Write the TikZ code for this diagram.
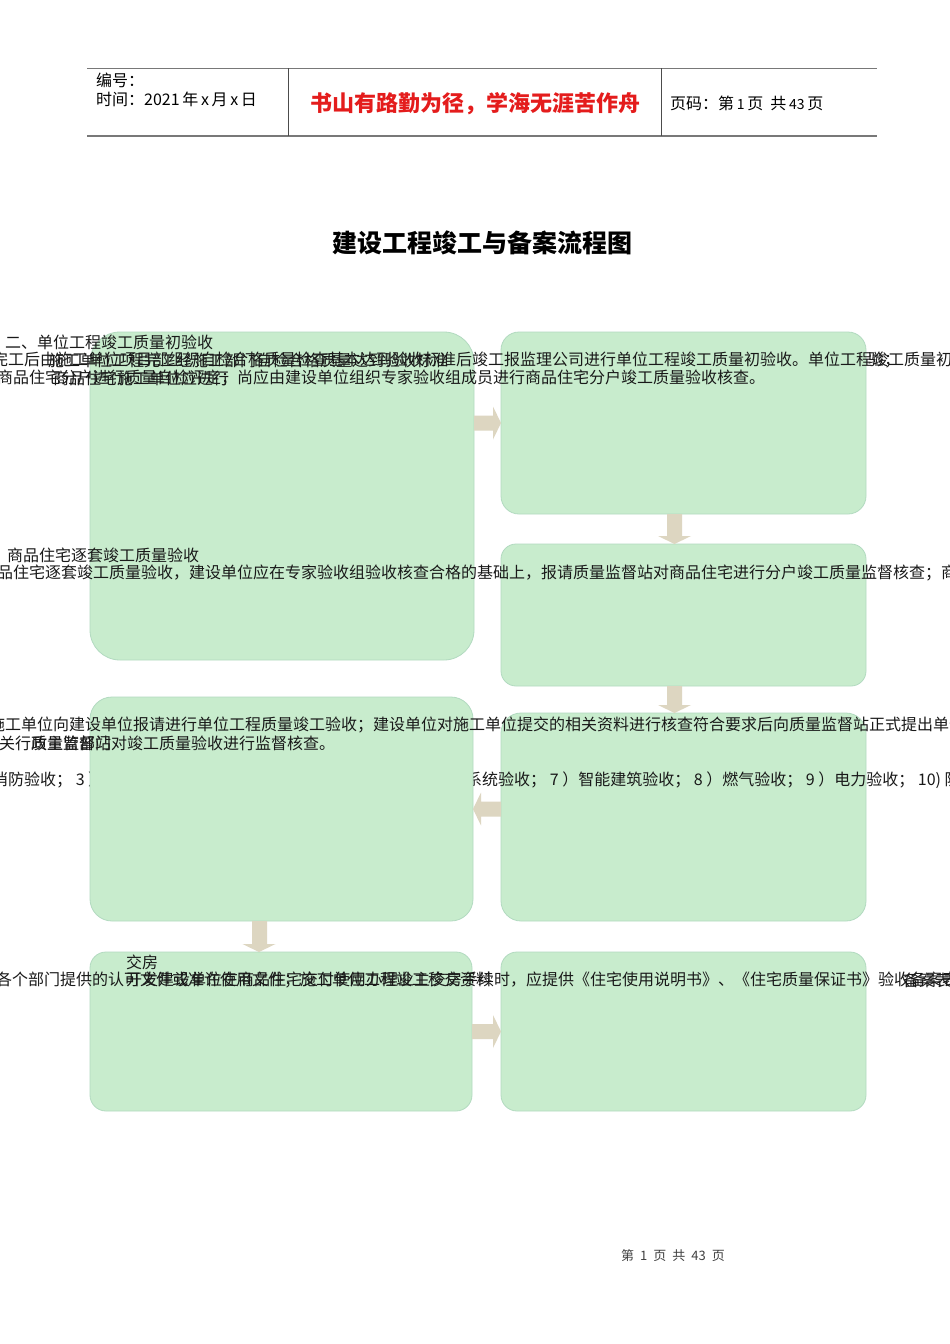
\documentclass[tikz,border=0pt]{standalone}
\usepackage{fontspec}
\newfontfamily\cjk{Noto Sans CJK SC}
\usetikzlibrary{calc}
\definecolor{boxg}{RGB}{200,236,205}
\definecolor{boxl}{RGB}{178,218,192}
\definecolor{arrc}{RGB}{221,214,193}
\definecolor{hred}{RGB}{228,28,28}
\definecolor{txt}{RGB}{25,25,25}
\definecolor{rulec}{RGB}{120,120,120}
\tikzset{
  fbox/.style={draw=boxl, fill=boxg, line width=0.8pt, rectangle, inner sep=0pt, outer sep=0pt, anchor=north west},
  ln/.style={font=\cjk\fontsize{16}{18}\selectfont, text=txt, inner sep=0pt, anchor=west},
  hdr/.style={font=\cjk\fontsize{16}{18}\selectfont, text=black, inner sep=0pt, anchor=west},
  blk/.style={fill=arrc, draw=none},
}
\begin{document}
\begin{tikzpicture}[x=1pt,y=-1pt]
\fill[white] (0,0) rectangle (950,1344);
\useasboundingbox (0,0) rectangle (950,1344);

% header table
\draw[rulec, line width=1pt] (87,68) -- (877,68);
\draw[rulec, line width=2pt] (87,136) -- (877,136);
\draw[black!70, line width=0.8pt] (288,68) -- (288,136);
\draw[black!70, line width=0.8pt] (661,68) -- (661,136);
\node[hdr] (h1) at (96,80) {编号：};
\node[hdr] (h2) at (96,99) {时间：2021\,年\,x\,月\,x\,日};
\node[font=\cjk\fontsize{22}{24}\selectfont\bfseries, text=hred, inner sep=0pt] (h3) at (475,104) {书山有路勤为径，学海无涯苦作舟};
\node[hdr] (h4) at (670,103) {页码：第\,{\fontsize{14}{16}\selectfont 1}\,页\ \ 共\,{\fontsize{14}{16}\selectfont 43}\,页};

% title
\node[font=\cjk\fontsize{25}{28}\selectfont\bfseries, text=black, inner sep=0pt] (title) at (482,243) {建设工程竣工与备案流程图};

% boxes (first group)
\node[fbox, rounded corners=30pt, minimum width=384pt, minimum height=328pt] (b1) at (90,332) {};
\node[fbox, rounded corners=18pt, minimum width=365pt, minimum height=182pt] (b2) at (501,332) {};
\node[fbox, rounded corners=15pt, minimum width=365pt, minimum height=142pt] (b3) at (501,544) {};
\node[fbox, rounded corners=20pt, minimum width=365pt, minimum height=208pt] (b5) at (501,713) {};

% arrows b1->b2, b2->b3, b3->b5
\coordinate (s1) at (b1.east |- b2.west);
\coordinate (t1) at (b2.west);
\fill[blk] ($(s1)+(0,7.5)$) -| ($(t1)+(-8,16.5)$) -- (t1) -- ($(t1)+(-8,-16.5)$) |- ($(s1)+(0,-7.5)$) -- cycle;
\coordinate (s2) at ($(b2.south)+(-9,0)$);
\coordinate (t2) at ($(b3.north)+(-9,0)$);
\fill[blk] ($(s2)+(-7.5,0)$) |- ($(t2)+(-16.5,-8)$) -- (t2) -- ($(t2)+(16.5,-8)$) -| ($(s2)+(7.5,0)$) -- cycle;
\coordinate (s3) at ($(b3.south)+(-9,0)$);
\coordinate (t3) at ($(b5.north)+(-9,0)$);
\fill[blk] ($(s3)+(-7.5,0)$) |- ($(t3)+(-16.5,-8)$) -- (t3) -- ($(t3)+(16.5,-8)$) -| ($(s3)+(7.5,0)$) -- cycle;

% texts over first group
\node[ln] (r1) at (5,342) {二、单位工程竣工质量初验收};
\node[ln] (r2a) at (-8,360) {完工后由施工单位项目部组织自检合格质量检查基本达到验收标准后竣工报监理公司进行单位工程竣工质量初验收。单位工程竣工质量初验收；};
\node[ln] (r2b) at (48,360) {施工单位工程完工经施工部门自检合格质量达到验收标准};
\node[ln] (r2c) at (868,360) {验；};
\node[ln] (r3a) at (-19,378) {对商品住宅分户进行质量自检评定；尚应由建设单位组织专家验收组成员进行商品住宅分户竣工质量验收核查。};
\node[ln] (r3b) at (53,378) {商品住宅施工单位应进行};
\node[ln] (r4) at (7,555) {商品住宅逐套竣工质量验收};
\node[ln] (r5) at (-19,573) {商品住宅逐套竣工质量验收，建设单位应在专家验收组验收核查合格的基础上，报请质量监督站对商品住宅进行分户竣工质量监督核查；商品住宅};
\node[ln] (r8a) at (-8,780) {消防验收；\ 3\ ）环保验收；\ 4\ ）人防验收；\ 5\ ）节能验收；};
\node[ln] (r8b) at (466,780) {系统验收；\ 7\ ）智能建筑验收；\ 8\ ）燃气验收；\ 9\ ）电力验收；\ 10)\ 防雷验收};

% box 4 covers part of the row above
\node[fbox, rounded corners=22pt, minimum width=383pt, minimum height=224pt] (b4) at (90,697) {};
\coordinate (s4) at (b5.west |- b4.east);
\coordinate (t4) at (b4.east);
\fill[blk] ($(s4)+(0,7.5)$) -| ($(t4)+(8,16.5)$) -- (t4) -- ($(t4)+(8,-16.5)$) |- ($(s4)+(0,-7.5)$) -- cycle;

\node[ln] (r6) at (-11,725) {施工单位向建设单位报请进行单位工程质量竣工验收；建设单位对施工单位提交的相关资料进行核查符合要求后向质量监督站正式提出单位工程竣工};
\node[ln] (r7a) at (-1,743) {关行政主管部门};
\node[ln] (r7b) at (31,743) {质量监督站对竣工质量验收进行监督核查。};

% last group
\node[fbox, rounded corners=16pt, minimum width=382pt, minimum height=159pt] (b6) at (90,952) {};
\node[fbox, rounded corners=16pt, minimum width=365pt, minimum height=159pt] (b7) at (501,952) {};
\coordinate (s5) at ($(b4.south)+(-22,0)$);
\coordinate (t5) at ($(b6.north)+(-22,0)$);
\fill[blk] ($(s5)+(-7.5,0)$) |- ($(t5)+(-16.5,-8)$) -- (t5) -- ($(t5)+(16.5,-8)$) -| ($(s5)+(7.5,0)$) -- cycle;
\coordinate (s6) at (b6.east);
\coordinate (t6) at (b7.west |- b6.east);
\fill[blk] ($(s6)+(0,7.5)$) -| ($(t6)+(-8,16.5)$) -- (t6) -- ($(t6)+(-8,-16.5)$) |- ($(s6)+(0,-7.5)$) -- cycle;

\node[ln] (r9) at (126,962) {交房};
\node[ln] (r10a) at (-4,980) {各个部门提供的认可文件或准许使用文件；施工单位工程竣工移交资料};
\node[ln] (r10b) at (126,980) {开发建设单位在商品住宅交付使用办理业主交房手续时，应提供《住宅使用说明书》、《住宅质量保证书》验收备案表};
\node[ln] (r10c) at (903,980) {备案表格};

% footer
\node[font=\cjk\fontsize{13}{15}\selectfont, text=black!75, inner sep=0pt] (foot) at (673,1256) {第\hspace{6pt}1\hspace{6pt}页\hspace{6pt}共\hspace{6pt}43\hspace{6pt}页};
\end{tikzpicture}
\end{document}
